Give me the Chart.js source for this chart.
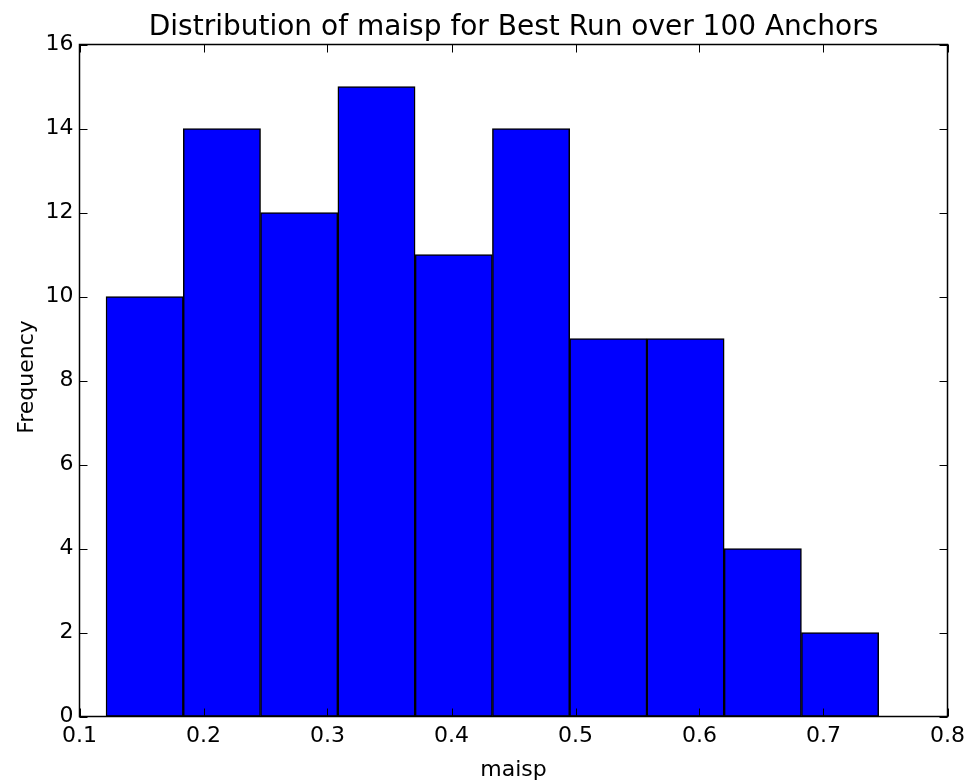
<!DOCTYPE html>
<html>
<head>
<meta charset="utf-8">
<script src="https://cdn.jsdelivr.net/npm/chart.js@4.4.0/dist/chart.umd.min.js"></script>
<style>
  body { margin: 0; background: #fff; }
  #wrap { width: 974px; height: 784px; }
</style>
</head>
<body>
<div id="wrap"><canvas id="hist" width="974" height="784"></canvas></div>
<script>
// histogram bins
let binEdges = [0.1214, 0.1837, 0.2460, 0.3083, 0.3707, 0.4330, 0.4953, 0.5576, 0.6199, 0.6822, 0.7445];
let counts = [10, 14, 12, 15, 11, 14, 9, 9, 4, 2];
let xTicks = [0.1, 0.2, 0.3, 0.4, 0.5, 0.6, 0.7, 0.8];
let yTicks = [0, 2, 4, 6, 8, 10, 12, 14, 16];

let titleText = 'Distribution of maisp for Best Run over 100 Anchors';
let xLabel = 'maisp';
let yLabel = 'Frequency';
let fontName = "'DejaVu Sans', sans-serif";

function buildPoints() {
  let pts = [];
  for (let i = 0; i < counts.length; i++) {
    pts.push({ x: (binEdges[i] + binEdges[i + 1]) / 2, y: counts[i] });
  }
  return pts;
}

// frame, inward ticks, title and axis labels (matplotlib classic look)
let frameAndText = {
  id: 'frameAndText',
  afterDraw(chart) {
    let ctx = chart.ctx;
    let a = chart.chartArea;
    let xs = chart.scales.x;
    let ys = chart.scales.y;
    ctx.save();
    ctx.strokeStyle = '#000';
    ctx.lineWidth = 1;
    let tl = 8;
    ctx.beginPath();
    xTicks.forEach(v => {
      let px = Math.round(xs.getPixelForValue(v)) + 0.5;
      ctx.moveTo(px, a.bottom);
      ctx.lineTo(px, a.bottom - tl);
      ctx.moveTo(px, a.top);
      ctx.lineTo(px, a.top + tl);
    });
    yTicks.forEach(v => {
      let py = Math.round(ys.getPixelForValue(v)) + 0.5;
      ctx.moveTo(a.left, py);
      ctx.lineTo(a.left + tl, py);
      ctx.moveTo(a.right, py);
      ctx.lineTo(a.right - tl, py);
    });
    ctx.stroke();

    ctx.lineWidth = 1.5;
    ctx.strokeRect(a.left, a.top, a.right - a.left, a.bottom - a.top);

    ctx.fillStyle = '#000';
    ctx.textAlign = 'center';
    ctx.textBaseline = 'alphabetic';
    ctx.font = '28px ' + fontName;
    ctx.fillText(titleText, (a.left + a.right) / 2, 35);

    ctx.font = '22px ' + fontName;
    ctx.fillText(xLabel, (a.left + a.right) / 2, 776);

    ctx.translate(33, 377);
    ctx.rotate(-Math.PI / 2);
    ctx.fillText(yLabel, 0, 0);
    ctx.restore();
  }
};

new Chart(document.getElementById('hist'), {
  type: 'bar',
  data: {
    datasets: [{
      label: 'maisp',
      data: buildPoints(),
      backgroundColor: '#0000ff',
      borderColor: '#000000',
      borderWidth: 1.5,
      borderSkipped: false,
      barPercentage: 1,
      categoryPercentage: 1
    }]
  },
  options: {
    responsive: false,
    animation: false,
    devicePixelRatio: 1,
    layout: { padding: { left: 0, top: 44.5, right: 26.5, bottom: 0 } },
    plugins: {
      legend: { display: false },
      title: { display: false },
      tooltip: { enabled: false }
    },
    scales: {
      x: {
        type: 'linear',
        min: 0.1,
        max: 0.8,
        offset: false,
        grid: { display: false, drawTicks: false },
        border: { display: false },
        afterFit(scale) { scale.height = 67.5; },
        afterBuildTicks(scale) { scale.ticks = xTicks.map(v => ({ value: v })); },
        ticks: {
          color: '#000',
          padding: 7,
          maxRotation: 0,
          font: { family: fontName, size: 22 },
          callback: v => v.toFixed(1)
        }
      },
      y: {
        min: 0,
        max: 16,
        grid: { display: false, drawTicks: false },
        border: { display: false },
        afterFit(scale) { scale.width = 79.5; },
        afterBuildTicks(scale) { scale.ticks = yTicks.map(v => ({ value: v })); },
        ticks: {
          color: '#000',
          padding: 6,
          font: { family: fontName, size: 22 }
        }
      }
    }
  },
  plugins: [frameAndText]
});
</script>
</body>
</html>
